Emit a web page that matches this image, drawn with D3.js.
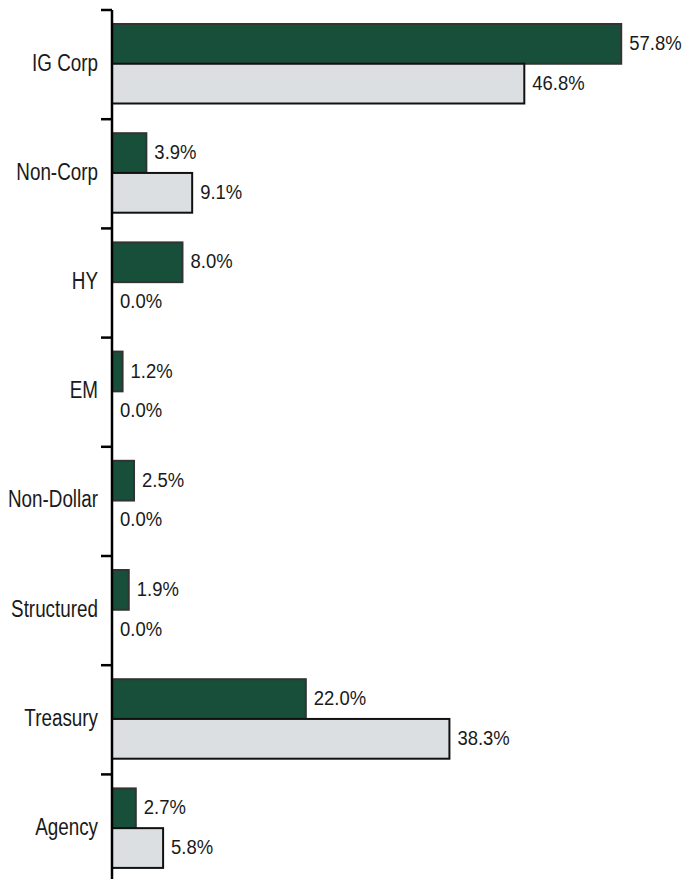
<html>
    <head>
        <style>
            body { margin: 0; background: #ffffff; }
            text { font-family: "Liberation Sans", Arial, sans-serif; fill: #1a1a1a; }
        </style>
        <script src="https://d3js.org/d3.v7.min.js"></script>
    </head>
    <body>
        <script>
            const categories = ["IG Corp", "Non-Corp", "HY", "EM", "Non-Dollar", "Structured", "Treasury", "Agency"];
            const fundValues = [57.8, 3.9, 8.0, 1.2, 2.5, 1.9, 22.0, 2.7];
            const indexValues = [46.8, 9.1, 0.0, 0.0, 0.0, 0.0, 38.3, 5.8];
            const seriesKeys = ["fund", "index"];

            const w = 685;
            const h = 879;
            const axisX = 112;

            const rows = categories.map((c, i) => ({cat: c, fund: fundValues[i], index: indexValues[i]}));

            const svg = d3.select("body")
                .append("svg")
                .attr("width", w)
                .attr("height", h);

            const xScale = d3.scaleLinear()
                .domain([0, 60])
                .range([axisX, axisX + 60 * 8.81]);
            const yScale = d3.scaleBand()
                .domain(categories)
                .range([10, 10 + 8 * 109.2]);
            const subScale = d3.scaleBand()
                .domain(seriesKeys)
                .range([14, 93.5]);

            const fills = {fund: "#174f3a", index: "#dcdfe2"};
            const strokes = {fund: "#333333", index: "#111111"};

            const groups = svg.selectAll(".cat")
                .data(rows)
                .enter()
                .append("g")
                .attr("class", "cat")
                .attr("transform", d => "translate(0," + yScale(d.cat) + ")");

            groups.selectAll("rect")
                .data(d => seriesKeys.map(k => ({key: k, value: d[k]})))
                .enter()
                .append("rect")
                .attr("x", xScale(0))
                .attr("y", d => subScale(d.key))
                .attr("width", d => xScale(d.value) - xScale(0))
                .attr("height", subScale.bandwidth())
                .attr("fill", d => fills[d.key])
                .attr("stroke", d => d.value > 0 ? strokes[d.key] : "none")
                .attr("stroke-width", 2);

            // value labels, squeezed a bit to look like a condensed face
            groups.selectAll(".val")
                .data(d => seriesKeys.map(k => ({key: k, value: d[k]})))
                .enter()
                .append("text")
                .attr("class", "val")
                .attr("transform", d => "translate(" + (xScale(d.value) + 8) + "," + (subScale(d.key) + subScale.bandwidth() / 2 - 1.5) + ") scale(0.88,1)")
                .attr("dy", "0.36em")
                .style("font-size", "21px")
                .text(d => d.value.toFixed(1) + "%");

            // category labels
            groups.append("text")
                .attr("class", "cat-label")
                .attr("text-anchor", "end")
                .attr("transform", "translate(98," + (subScale("index") - 1.5) + ") scale(0.82,1)")
                .attr("dy", "0.36em")
                .style("font-size", "23px")
                .text(d => d.cat);

            // axis line and ticks at the band edges
            svg.append("line")
                .attr("x1", axisX).attr("x2", axisX)
                .attr("y1", yScale.range()[0]).attr("y2", h)
                .attr("stroke", "#000").attr("stroke-width", 2.5);

            svg.selectAll(".edge")
                .data(categories.map(c => yScale(c)))
                .enter()
                .append("line")
                .attr("class", "edge")
                .attr("x1", axisX - 11).attr("x2", axisX)
                .attr("y1", d => d).attr("y2", d => d)
                .attr("stroke", "#000").attr("stroke-width", 2.5);
        </script>
    </body>
</html>
